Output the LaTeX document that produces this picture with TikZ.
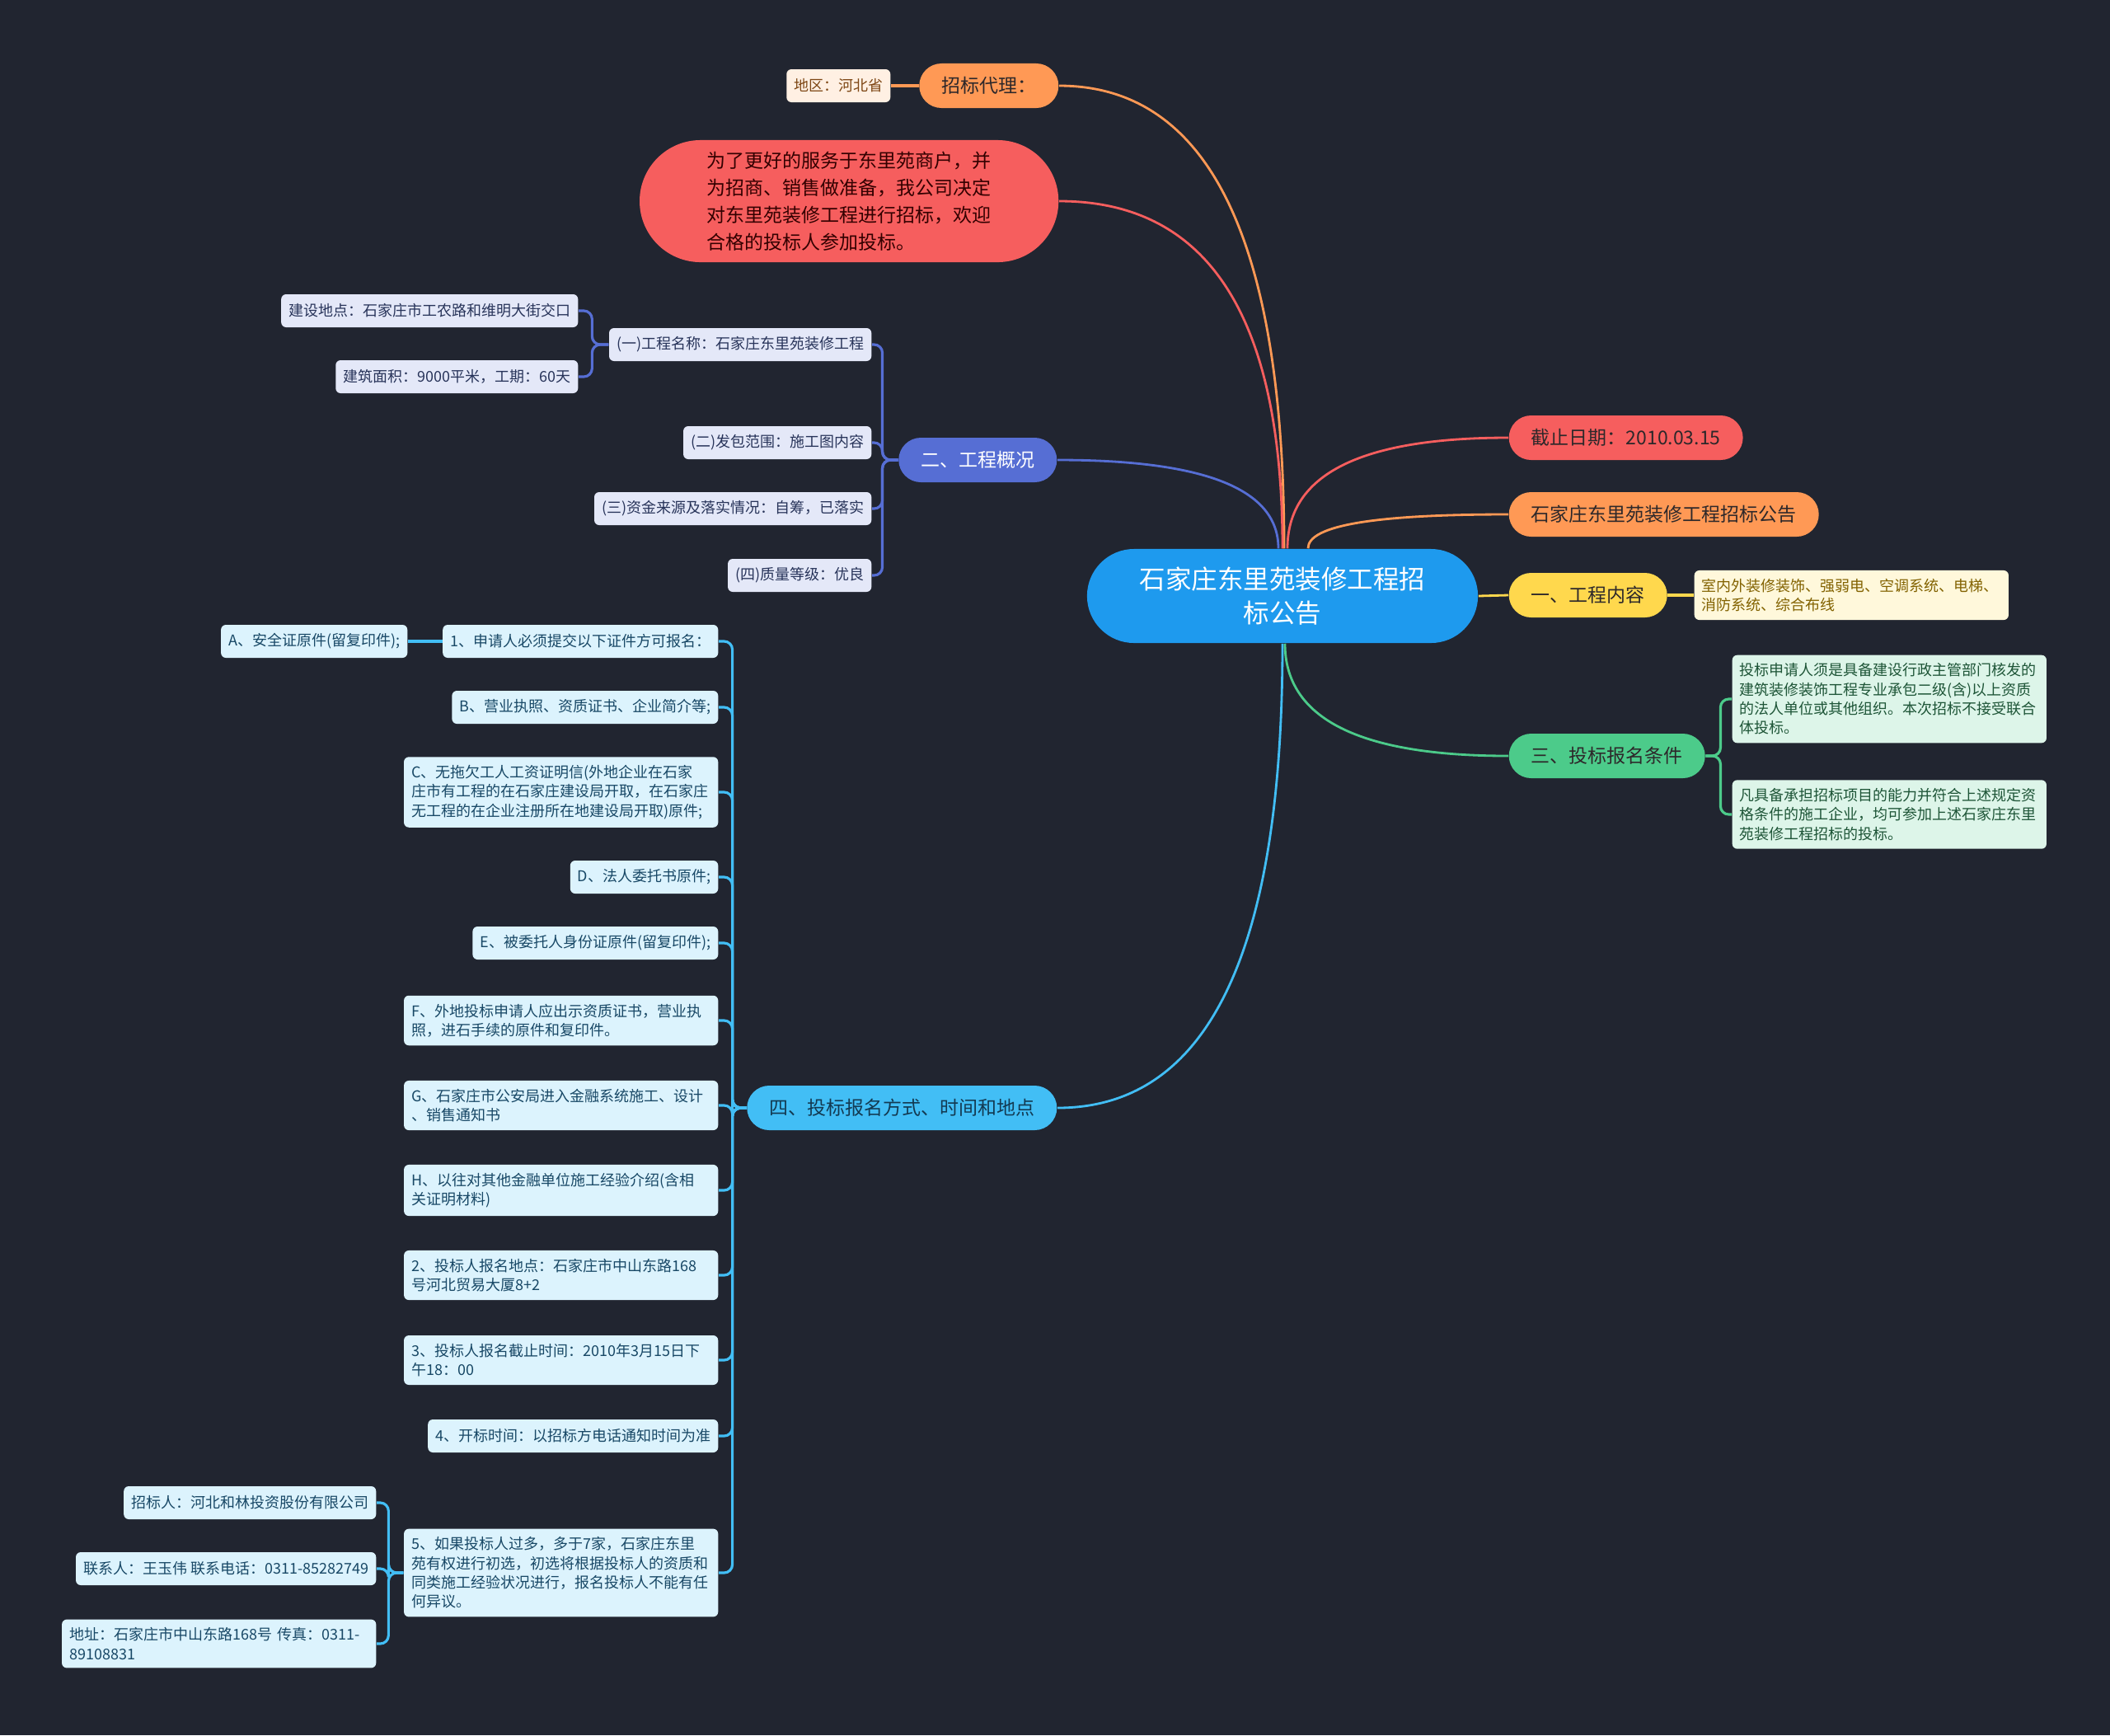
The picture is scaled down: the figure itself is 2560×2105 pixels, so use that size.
\documentclass[tikz,border=0pt]{standalone}
\usepackage{fontspec}
\setmainfont{Noto Sans CJK SC}
\usepackage{tikz}
\usetikzlibrary{calc}

\definecolor{bgdark}{RGB}{33,37,48}
\definecolor{rootblue}{RGB}{30,154,238}
\definecolor{orangetop}{RGB}{255,153,85}
\definecolor{redtop}{RGB}{246,94,94}
\definecolor{indigotop}{RGB}{86,110,212}
\definecolor{skytop}{RGB}{66,190,245}
\definecolor{yellowtop}{RGB}{255,216,77}
\definecolor{greentop}{RGB}{76,203,138}
\definecolor{inkdark}{RGB}{45,40,42}
\definecolor{erpale}{RGB}{228,232,248}
\definecolor{erink}{RGB}{40,52,90}
\definecolor{skypale}{RGB}{220,243,253}
\definecolor{skyink}{RGB}{24,72,102}
\definecolor{greenpale}{RGB}{221,245,233}
\definecolor{greenink}{RGB}{30,85,55}
\definecolor{yellowpale}{RGB}{255,248,219}
\definecolor{yellowink}{RGB}{130,98,0}
\definecolor{orangepale}{RGB}{255,240,227}
\definecolor{orangeink}{RGB}{125,70,20}

\begin{document}
\begin{tikzpicture}[x=0.01cm, y=-0.01cm,
  root/.style={fill=rootblue, text=white, rounded corners=0.57cm, minimum width=4.74cm,
    minimum height=1.14cm, align=center, font=\fontsize{8.96pt}{11.9pt}\selectfont},
  main/.style={rounded corners=0.27cm, minimum height=0.54cm, inner xsep=0.27cm, inner ysep=0pt,
    text=inkdark, font=\fontsize{6.54pt}{9.39pt}\selectfont},
  leaf/.style={rounded corners=0.06cm, minimum height=0.40cm, inner xsep=0.09cm, inner ysep=0.1cm,
    align=left, font=\fontsize{5.12pt}{6.63pt}\selectfont},
  wide/.style={text width=3.63cm},
  erleaf/.style={leaf, fill=erpale, text=erink},
  skyleaf/.style={leaf, fill=skypale, text=skyink},
  greenleaf/.style={leaf, fill=greenpale, text=greenink},
  bough/.style={draw=#1, line width=0.8pt},
  twig/.style={draw=#1, line width=0.9pt, rounded corners=0.1cm}]
\fill[bgdark] (0,0) rectangle (2560,2105);

% centre
\node[root] (root) at (1556,723) {石家庄东里苑装修工程招\\标公告};

% first level, left
\node[main, fill=orangetop, anchor=east] (agent) at (1285,104) {招标代理：};
\node[main, fill=redtop, anchor=east, text width=3.45cm, inner xsep=0.815cm, minimum height=1.48cm,
  rounded corners=0.74cm, align=left, text=black!80!red] (intro) at (1285,244)
  {为了更好的服务于东里苑商户，并\\为招商、销售做准备，我公司决定\\对东里苑装修工程进行招标，欢迎\\合格的投标人参加投标。};
\node[main, fill=indigotop, text=white, anchor=east] (er) at (1283,558) {二、工程概况};
\node[main, fill=skytop, anchor=east, text=skyink!80!black] (si) at (1283,1344) {四、投标报名方式、时间和地点};

% first level, right
\node[main, fill=redtop, anchor=west] (jz) at (1830,531) {截止日期：2010.03.15};
\node[main, fill=orangetop, anchor=west] (gg) at (1830,624) {石家庄东里苑装修工程招标公告};
\node[main, fill=yellowtop, anchor=west] (yi) at (1830,722) {一、工程内容};
\node[main, fill=greentop, anchor=west] (san) at (1830,917) {三、投标报名条件};

% leaves
\node[leaf, fill=orangepale, text=orangeink, anchor=east] (dq) at (1081,104) {地区：河北省};
\node[leaf, wide, fill=yellowpale, text=yellowink, anchor=west] (yia) at (2055,722)
  {室内外装修装饰、强弱电、空调系统、电梯、\\消防系统、综合布线};
\node[greenleaf, wide, anchor=west] (sana) at (2101,848)
  {投标申请人须是具备建设行政主管部门核发的\\建筑装修装饰工程专业承包二级(含)以上资质\\的法人单位或其他组织。本次招标不接受联合\\体投标。};
\node[greenleaf, wide, anchor=west] (sanb) at (2101,988)
  {凡具备承担招标项目的能力并符合上述规定资\\格条件的施工企业，均可参加上述石家庄东里\\苑装修工程招标的投标。};

\node[erleaf, anchor=east] (er1) at (1058,418) {(一)工程名称：石家庄东里苑装修工程};
\node[erleaf, anchor=east] (er1a) at (702,377) {建设地点：石家庄市工农路和维明大街交口};
\node[erleaf, anchor=east] (er1b) at (702,457) {建筑面积：9000平米，工期：60天};
\node[erleaf, anchor=east] (er2) at (1058,537) {(二)发包范围：施工图内容};
\node[erleaf, anchor=east] (er3) at (1058,617) {(三)资金来源及落实情况：自筹，已落实};
\node[erleaf, anchor=east] (er4) at (1058,698) {(四)质量等级：优良};

\node[skyleaf, anchor=east] (s1) at (872,778) {1、申请人必须提交以下证件方可报名：};
\node[skyleaf, anchor=east] (s1a) at (495,778) {A、安全证原件(留复印件);};
\node[skyleaf, anchor=east] (sb) at (872,858) {B、营业执照、资质证书、企业简介等;};
\node[skyleaf, wide, anchor=east] (sc) at (872,961)
  {C、无拖欠工人工资证明信(外地企业在石家\\庄市有工程的在石家庄建设局开取，在石家庄\\无工程的在企业注册所在地建设局开取)原件;};
\node[skyleaf, anchor=east] (sd) at (872,1064) {D、法人委托书原件;};
\node[skyleaf, anchor=east] (se) at (872,1144) {E、被委托人身份证原件(留复印件);};
\node[skyleaf, wide, anchor=east] (sf) at (872,1238)
  {F、外地投标申请人应出示资质证书，营业执\\照，进石手续的原件和复印件。};
\node[skyleaf, wide, anchor=east] (sg) at (872,1341)
  {G、石家庄市公安局进入金融系统施工、设计\\、销售通知书};
\node[skyleaf, wide, anchor=east] (sh) at (872,1444)
  {H、以往对其他金融单位施工经验介绍(含相\\关证明材料)};
\node[skyleaf, wide, anchor=east] (s2) at (872,1547)
  {2、投标人报名地点：石家庄市中山东路168\\号河北贸易大厦8+2};
\node[skyleaf, wide, anchor=east] (s3) at (872,1650)
  {3、投标人报名截止时间：2010年3月15日下\\午18：00};
\node[skyleaf, anchor=east] (s4) at (872,1742) {4、开标时间：以招标方电话通知时间为准};
\node[skyleaf, wide, anchor=east] (s5) at (872,1908)
  {5、如果投标人过多，多于7家，石家庄东里\\苑有权进行初选，初选将根据投标人的资质和\\同类施工经验状况进行，报名投标人不能有任\\何异议。};
\node[skyleaf, anchor=east] (s5a) at (457,1823) {招标人：河北和林投资股份有限公司};
\node[skyleaf, anchor=east] (s5b) at (457,1903) {联系人：王玉伟 联系电话：0311-85282749};
\node[skyleaf, wide, anchor=east] (s5c) at (457,1994) {地址：石家庄市中山东路168号 传真：0311-\\89108831};

% boughs from the centre
\draw[bough=orangetop] ($(root.north)+(2,0)$) .. controls +(0,-375) and +(181,0) .. (agent.east);
\draw[bough=redtop] (root.north) .. controls +(0,-281) and +(181,0) .. (intro.east);
\draw[bough=indigotop] ($(root.north)+(-5,0)$) .. controls +(0,-72) and +(179,0) .. (er.east);
\draw[bough=redtop] ($(root.north)+(6,0)$) .. controls +(0,-90) and +(-179,0) .. (jz.west);
\draw[bough=orangetop] ($(root.north)+(31,0)$) .. controls +(0,-28) and +(-162,0) .. (gg.west);
\draw[bough=yellowtop] (root.east) -- (yi.west);
\draw[bough=greentop] ($(root.south)+(3,0)$) .. controls +(0,91) and +(-181,0) .. (san.west);
\draw[bough=skytop] (root.south) .. controls +(0,376) and +(182,0) .. (si.east);

% twigs
\draw[twig=orangetop] (agent.west) -- (dq.east);
\draw[twig=yellowtop] (yi.east) -- (yia.west);
\foreach \c in {sana,sanb}
  \draw[twig=greentop] (san.east) -- ++(18,0) |- (\c.west);
\foreach \c in {er1,er2,er3,er4}
  \draw[twig=indigotop] (er.west) -- ++(-19,0) |- (\c.east);
\foreach \c in {er1a,er1b}
  \draw[twig=indigotop] (er1.west) -- ++(-20,0) |- (\c.east);
\foreach \c in {s1,sb,sc,sd,se,sf,sg,sh,s2,s3,s4,s5}
  \draw[twig=skytop] (si.west) -- ++(-17,0) |- (\c.east);
\draw[twig=skytop] (s1.west) -- (s1a.east);
\foreach \c in {s5a,s5b,s5c}
  \draw[twig=skytop] (s5.west) -- ++(-18,0) |- (\c.east);
\end{tikzpicture}
\end{document}
